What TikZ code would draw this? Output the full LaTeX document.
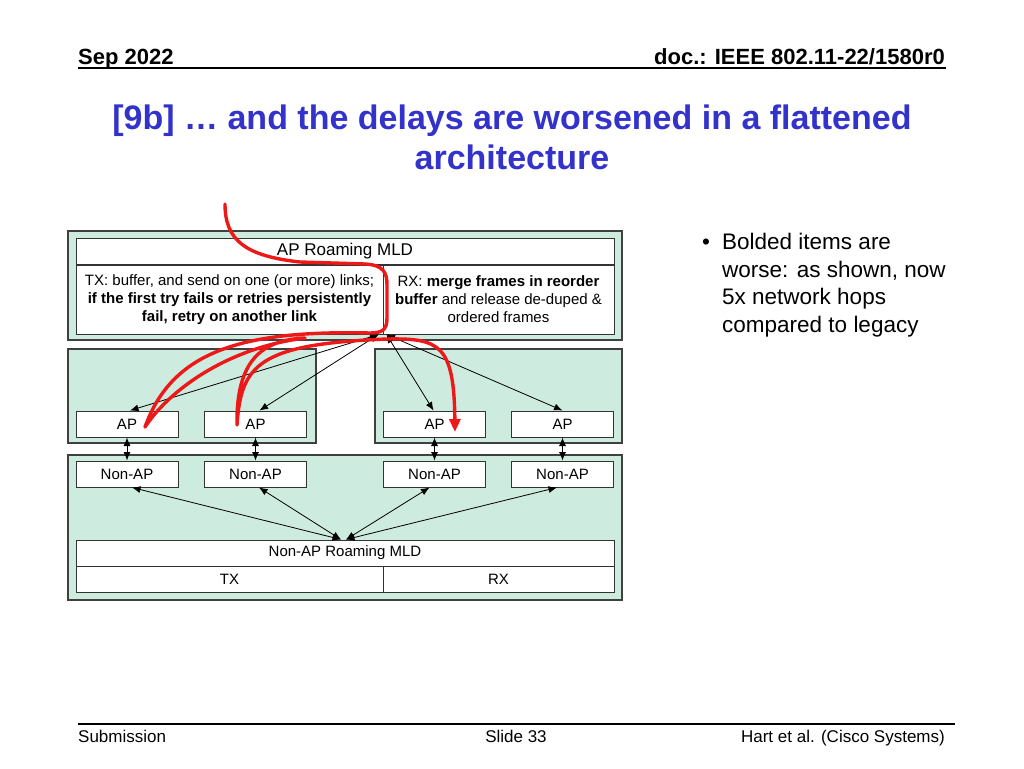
\documentclass[tikz,border=0pt]{standalone}
\usepackage{fontspec}
\setmainfont{Liberation Sans}
\usetikzlibrary{arrows.meta, positioning, calc}
\definecolor{MldGreen}{RGB}{205, 235, 222}
\definecolor{TitleBlue}{RGB}{51, 51, 204}
\definecolor{PenRed}{RGB}{238, 24, 24}
\newcommand{\fsz}[2]{\fontsize{#1}{#2}\selectfont}

\begin{document}
\begin{tikzpicture}[
        x=1pt, y=-1pt,
        every node/.style={inner sep=0pt, text centered},
        grpbox/.style={draw=black!75, fill=MldGreen, line width=1.3pt},
        cellbox/.style={draw=black!80, fill=white, line width=1pt, font=\fsz{15}{18}},
        link/.style={{Latex[length=8.5pt,width=7pt]}-{Latex[length=8.5pt,width=7pt]}, line width=0.8pt},
        penline/.style={draw=PenRed, line width=3.4pt, line cap=round, line join=round}
    ]
        \useasboundingbox[fill=white] (0,0) rectangle (1024,768);

        % Header
        \node[anchor=base west, font=\fsz{22}{26}\bfseries] (date) at (78,64) {Sep 2022};
        \node[anchor=base east, font=\fsz{22}{26}\bfseries] (docid) at (945,64) {doc.: IEEE 802.11-22/1580r0};
        \draw[line width=1.6pt] (78,68) -- (946,68);

        % Title
        \node[anchor=north, align=center, text=TitleBlue, font=\fsz{34}{40}\bfseries] (title) at (512,105)
            {[9b] … and the delays are worsened in a flattened\\architecture};

        % Bullet
        \node[anchor=base west, font=\fsz{22.5}{27.5}] (dot) at (702,249) {•};
        \node[anchor=north west, align=left, font=\fsz{22.5}{27.5}] (note) at (722,233)
            {Bolded items are\\worse: as shown, now\\5x network hops\\compared to legacy};

        % AP Roaming MLD
        \node[grpbox, minimum width=554pt, minimum height=109pt] (apgrp) at (345,285.5) {};
        \node[cellbox, minimum width=538pt, minimum height=26pt, font=\fsz{17}{20}] (apmld) at (345,251.5) {AP Roaming MLD};
        \node[cellbox, minimum width=307pt, minimum height=69pt, align=center, font=\fsz{15}{18}] (aptx) at (229.5,299.5)
            {TX: buffer, and send on one (or more) links;\\\textbf{if the first try fails or retries persistently}\\\textbf{fail, retry on another link}};
        \node[cellbox, minimum width=231pt, minimum height=69pt, align=center, font=\fsz{15}{18}] (aprx) at (498.5,299.5)
            {RX: \textbf{merge frames in reorder}\\\textbf{buffer} and release de-duped \&\\ordered frames};

        % Link groups
        \node[grpbox, minimum width=248pt, minimum height=94pt] (leftgrp) at (192,396) {};
        \node[grpbox, minimum width=247pt, minimum height=94pt] (rightgrp) at (498.5,396) {};
        \node[grpbox, minimum width=554pt, minimum height=145pt] (npgrp) at (345,527.5) {};

        % APs and Non-APs
        \foreach \i/\x in {1/127, 2/255.5, 3/434.5, 4/562.5} {
            \node[cellbox, minimum width=102pt, minimum height=26pt] (ap\i) at (\x,424) {AP};
            \node[cellbox, minimum width=102pt, minimum height=26pt] (np\i) at (\x,474) {Non-AP};
        }

        % Non-AP Roaming MLD
        \node[cellbox, minimum width=538pt, minimum height=26pt] (npmld) at (345,553) {Non-AP Roaming MLD};
        \node[cellbox, minimum width=307pt, minimum height=26pt] (nptx) at (229.5,579) {TX};
        \node[cellbox, minimum width=231pt, minimum height=26pt] (nprx) at (498.5,579) {RX};

        % Arrows
        \foreach \i/\s in {1/3, 2/4} \draw[link] ([xshift=-5pt]aptx.south east) -- ([xshift=\s pt]ap\i.north);
        \foreach \i/\s in {3/-1, 4/0} \draw[link] ([xshift=3pt]aptx.south east) -- ([xshift=\s pt]ap\i.north);
        \foreach \i in {1,...,4} \draw[link] (ap\i.south) -- (np\i.north);
        \foreach \i/\s in {1/5, 2/3.5} \draw[link] ([xshift=\s pt]np\i.south) -- ([xshift=-4pt]npmld.north);
        \foreach \i/\s in {3/-5, 4/-5.5} \draw[link] ([xshift=\s pt]np\i.south) -- ([xshift=1pt]npmld.north);

        % Pen stroke
        \draw[penline, -{Triangle[length=13pt,width=11pt]}]
            (225,204) .. controls (225,240) and (245,256) .. (300,262)
            -- (365,264) .. controls (383,265) and (387,272) .. (387,285)
            -- (387,318) .. controls (387,330) and (382,333) .. (370,333)
            .. controls (240,330) and (172,352) .. (145,427)
            .. controls (168,392) and (225,348) .. (305,338)
            .. controls (262,340) and (236,360) .. (237,425)
            .. controls (241,365) and (258,344) .. (387,339)
            .. controls (440,338) and (454,345) .. (455,432);

        % Footer
        \draw[line width=1.4pt] (78,724) -- (955,724);
        \node[anchor=base west, font=\fsz{17}{20}] (sub) at (78,742) {Submission};
        \node[anchor=base, font=\fsz{17}{20}] (slide) at (516,742) {Slide 33};
        \node[anchor=base east, font=\fsz{17}{20}] (auth) at (945,742) {Hart et al. (Cisco Systems)};
    \end{tikzpicture}
\end{document}
